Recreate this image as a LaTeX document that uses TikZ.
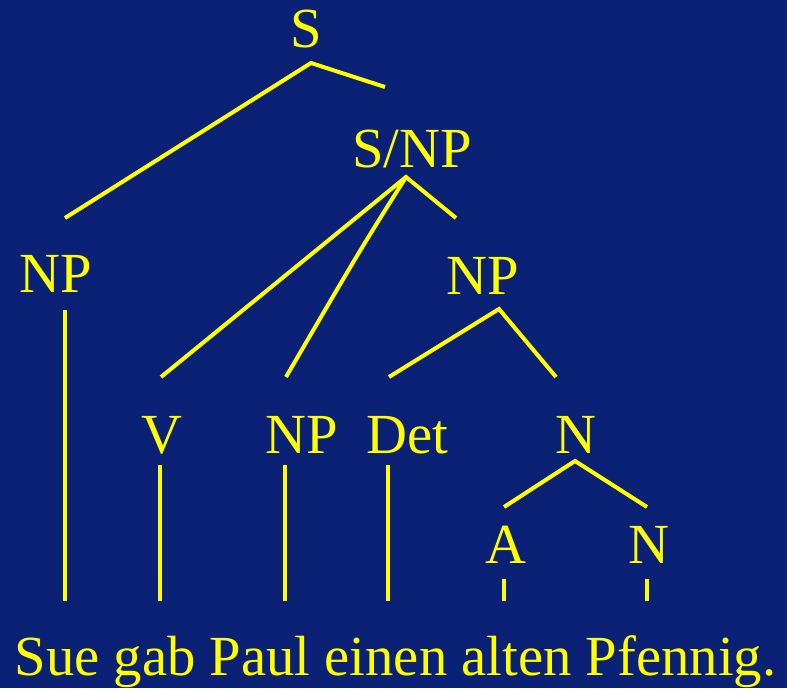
\documentclass[tikz,border=0pt]{standalone}
\usepackage{fontspec}
\setmainfont{Liberation Serif}
\definecolor{slidebg}{RGB}{10,33,117}
\definecolor{treeyellow}{RGB}{255,255,0}
\begin{document}
\begin{tikzpicture}[x=0.75pt,y=-0.75pt,
  lbl/.style={text=treeyellow,inner sep=0pt,anchor=base,
    font=\fontsize{42.5pt}{50pt}\selectfont},
  branch/.style={draw=treeyellow,line width=3pt}]
% background
\fill[slidebg] (0,0) rectangle (787,688);
\useasboundingbox (0,0) rectangle (787,688);

% category labels
\node[lbl] (S)    at (306.5,48)  {S};
\node[lbl] (SNP)  at (412,167)   {S/NP};
\node[lbl] (NPa)  at (55.5,292)  {NP};
\node[lbl] (NPb)  at (483,294)   {NP};
\node[lbl] (V)    at (161.5,453) {V};
\node[lbl] (NPc)  at (302,453)   {NP};
\node[lbl] (Det)  at (407,453)   {Det};
\node[lbl] (Nb)   at (575.5,453) {N};
\node[lbl] (A)    at (506,563)   {A};
\node[lbl] (Nc)   at (649,563)   {N};
\node[lbl] (sent) at (395.5,675) {Sue gab Paul einen alten Pfennig.};

% branch end points
\coordinate (S-d)    at (311,63);
\coordinate (S-l)    at (65,218);
\coordinate (S-r)    at (385,87);
\coordinate (SNP-d)  at (406,177);
\coordinate (SNP-r)  at (456,218);
\coordinate (NPa-d)  at (65,310);
\coordinate (NPb-d)  at (499,309);
\coordinate (V-u)    at (161,377);
\coordinate (V-d)    at (160,465);
\coordinate (NPc-u)  at (286,377);
\coordinate (NPc-d)  at (285,465);
\coordinate (Det-u)  at (389,377);
\coordinate (Det-d)  at (388,465);
\coordinate (Nb-u)   at (556,377);
\coordinate (Nb-d)   at (575,461);
\coordinate (A-u)    at (504,507);
\coordinate (A-d)    at (504,579);
\coordinate (Nc-u)   at (647,507);
\coordinate (Nc-d)   at (647,579);
\coordinate (w-Sue)  at (65,601);
\coordinate (w-gab)  at (160,601);
\coordinate (w-Paul) at (285,601);
\coordinate (w-ein)  at (388,601);
\coordinate (w-alt)  at (504,601);
\coordinate (w-Pf)   at (647,601);

% tree branches
\draw[branch] (S-l) -- (S-d) -- (S-r);
\draw[branch] (V-u) -- (SNP-d) -- (SNP-r);
\draw[branch] (SNP-d) .. controls (360,250) .. (NPc-u);
\draw[branch] (Det-u) -- (NPb-d) -- (Nb-u);
\draw[branch] (A-u) -- (Nb-d) -- (Nc-u);

% lines down to the words
\draw[branch] (NPa-d) -- (w-Sue);
\draw[branch] (V-d) -- (w-gab);
\draw[branch] (NPc-d) -- (w-Paul);
\draw[branch] (Det-d) -- (w-ein);
\draw[branch] (A-d) -- (w-alt);
\draw[branch] (Nc-d) -- (w-Pf);
\end{tikzpicture}
\end{document}
